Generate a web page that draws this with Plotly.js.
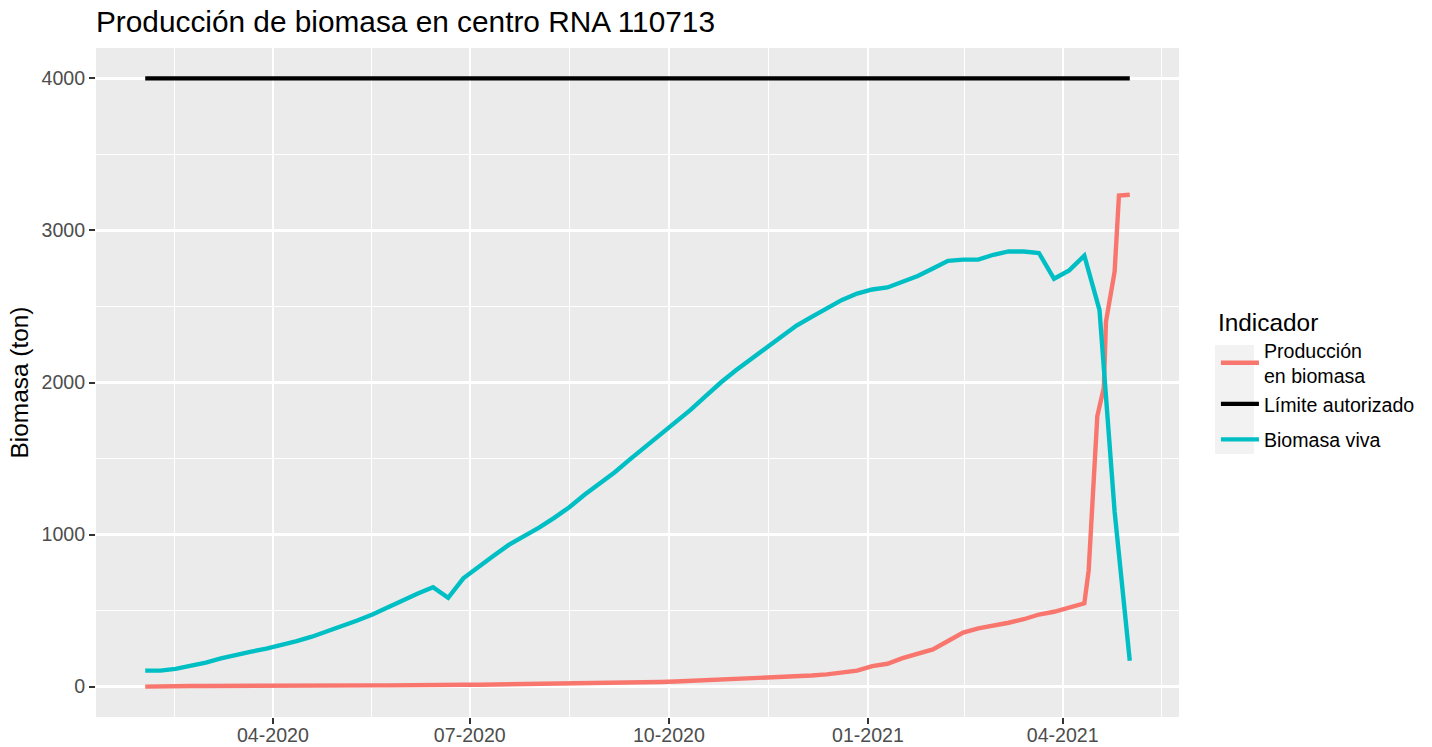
<!DOCTYPE html>
<html><head><meta charset="utf-8">
<script src="https://cdn.plot.ly/plotly-3.0.1.min.js"></script>
<style>html,body{margin:0;padding:0;background:#fff}#chart{width:1432px;height:747px}</style>
</head><body><div id="chart"></div>
<script>
// Weekly dates (Biomasa viva, Límite autorizado)
const fechas = ['2020-02-02','2020-02-09','2020-02-16','2020-02-23','2020-03-01','2020-03-08','2020-03-15','2020-03-22','2020-03-29','2020-04-05',
'2020-04-12','2020-04-19','2020-04-26','2020-05-03','2020-05-10','2020-05-17','2020-05-24','2020-05-31','2020-06-07','2020-06-14',
'2020-06-21','2020-06-28','2020-07-05','2020-07-12','2020-07-19','2020-07-26','2020-08-02','2020-08-09','2020-08-16','2020-08-23',
'2020-08-30','2020-09-06','2020-09-13','2020-09-20','2020-09-27','2020-10-04','2020-10-11','2020-10-18','2020-10-25','2020-11-01',
'2020-11-08','2020-11-15','2020-11-22','2020-11-29','2020-12-06','2020-12-13','2020-12-20','2020-12-27','2021-01-03','2021-01-10',
'2021-01-17','2021-01-24','2021-01-31','2021-02-07','2021-02-14','2021-02-21','2021-02-28','2021-03-07','2021-03-14','2021-03-21',
'2021-03-28','2021-04-04','2021-04-11','2021-04-18','2021-04-25','2021-05-02'];

const biomasaViva = [105,105,116,134,158,185,210,230,250,272,
299,328,362,400,435,474,522,570,612,654,
584,712,790,860,932,985,1045,1110,1180,1262,
1335,1410,1494,1575,1650,1735,1820,1910,2000,2080,
2155,2225,2305,2375,2432,2490,2543,2585,2612,2625,
2660,2700,2750,2800,2808,2808,2840,2862,2862,2852,
2682,2737,2834,2478,1150,170];

// Producción en biomasa: weekly until 2021-04-11, then more frequent records
const fechasProdExtra = ['2021-04-13','2021-04-17','2021-04-20','2021-04-21','2021-04-25','2021-04-27','2021-05-02'];
const produccionSemanal = [0,3,4,4,4,5,5,5,5,7,
7,7,8,8,8,8,8,10,10,11,
11,12,12,13,14,15,16,17,18,20,
22,24,26,28,30,33,37,41,45,49,
53,58,63,67,73,80,94,105,135,150,
187,213,245,300,355,383,398,420,443,474,
492,518,548];
const produccionExtra = [764,1780,1965,2400,2730,3230,3235];

const LIMITE = 4000;

const xTickVals = ['2020-04-01','2020-07-01','2020-10-01','2021-01-01','2021-04-01'];
const xTickText = ['04-2020','07-2020','10-2020','01-2021','04-2021'];
const xMinorVals = ['2020-02-15 12:00','2020-05-16 12:00','2020-08-16','2020-11-16','2021-02-14 12:00','2021-05-16 12:00'];
const yTickVals = [0,1000,2000,3000,4000];
const yTickText = ['0','1000','2000','3000','4000'];
const yMinorVals = [500,1500,2500,3500];

const seriesNames = ['Producción<br>en biomasa','Límite autorizado','Biomasa viva'];
const seriesColors = ['#F8766D','#000000','#00BFC4'];

const fechasProd = fechas.slice(0, produccionSemanal.length).concat(fechasProdExtra);
const produccion = produccionSemanal.concat(produccionExtra);
const limite = fechas.map(() => LIMITE);

const FONT = 'Liberation Sans, Arial, Helvetica, sans-serif';
const LW = 4.4;

const traces = [
  {x: fechasProd, y: produccion, name: seriesNames[0], legendgroup: 'g1', type: 'scatter', mode: 'lines', line: {color: seriesColors[0], width: LW}},
  {x: fechas, y: limite, name: seriesNames[1], legendgroup: 'g1', type: 'scatter', mode: 'lines', line: {color: seriesColors[1], width: LW}},
  {x: fechas, y: biomasaViva, name: seriesNames[2], legendgroup: 'g2', type: 'scatter', mode: 'lines', line: {color: seriesColors[2], width: LW}}
];

// ggplot-like 5% expansion of the date range
function fmt(ms) { return new Date(ms).toISOString().slice(0, 19).replace('T', ' '); }
const tMin = Date.parse(fechas[0]), tMax = Date.parse(fechas[fechas.length - 1]);
const pad = (tMax - tMin) * 0.05;

const L = 96, R = 1181, T = 48, B = 717;
const pw = R - L, ph = B - T;
const px = v => (v - L) / pw;
const py = v => (B - v) / ph;

const layout = {
  width: 1432, height: 747,
  margin: {l: L, r: 1432 - R, t: T, b: 747 - B, pad: 0},
  paper_bgcolor: '#FFFFFF', plot_bgcolor: '#EBEBEB',
  font: {family: FONT, color: '#000000'},
  title: {text: 'Producción de biomasa en centro RNA 110713', font: {size: 29.8, color: '#000000', family: FONT},
          x: px(96), xref: 'paper', xanchor: 'left', y: 1 - 22/747, yref: 'container', yanchor: 'middle'},
  xaxis: {
    type: 'date', range: [fmt(tMin - pad), fmt(tMax + pad)],
    tickmode: 'array', tickvals: xTickVals, ticktext: xTickText,
    ticks: 'outside', ticklen: 6, tickwidth: 2, tickcolor: '#333333',
    ticklabelstandoff: -6,
    tickfont: {size: 19.6, color: '#4D4D4D', family: FONT},
    showgrid: true, gridcolor: '#FFFFFF', gridwidth: 2.2,
    minor: {tickmode: 'array', tickvals: xMinorVals, showgrid: true, gridcolor: '#FFFFFF', gridwidth: 1.1, ticks: ''},
    zeroline: false, showline: false, automargin: false, fixedrange: true
  },
  yaxis: {
    range: [-200, 4200],
    tickmode: 'array', tickvals: yTickVals, ticktext: yTickText,
    ticks: 'outside', ticklen: 6, tickwidth: 2, tickcolor: '#333333',
    tickfont: {size: 19.6, color: '#4D4D4D', family: FONT},
    showgrid: true, gridcolor: '#FFFFFF', gridwidth: 2.2,
    minor: {tickmode: 'array', tickvals: yMinorVals, showgrid: true, gridcolor: '#FFFFFF', gridwidth: 1.1, ticks: ''},
    zeroline: false, showline: false, automargin: false, fixedrange: true,
    title: {text: 'Biomasa (ton)', font: {size: 24.4, color: '#000000', family: FONT}, standoff: 5}
  },
  showlegend: true,
  legend: {
    x: px(1218), xanchor: 'left', y: py(299), yanchor: 'top',
    bgcolor: 'rgba(0,0,0,0)', borderwidth: 0,
    font: {size: 19.6, color: '#000000', family: FONT},
    title: {text: 'Indicador', font: {size: 24.4, color: '#000000', family: FONT}},
    itemwidth: 38, tracegroupgap: 7, traceorder: 'grouped'
  },
  shapes: [
    {type: 'rect', xref: 'paper', yref: 'paper', x0: px(1217), x1: px(1256), y0: py(454), y1: py(345),
     fillcolor: '#F2F2F2', line: {width: 0}, layer: 'below'}
  ]
};

Plotly.newPlot('chart', traces, layout, {displayModeBar: false, staticPlot: true});
</script>
</body></html>
